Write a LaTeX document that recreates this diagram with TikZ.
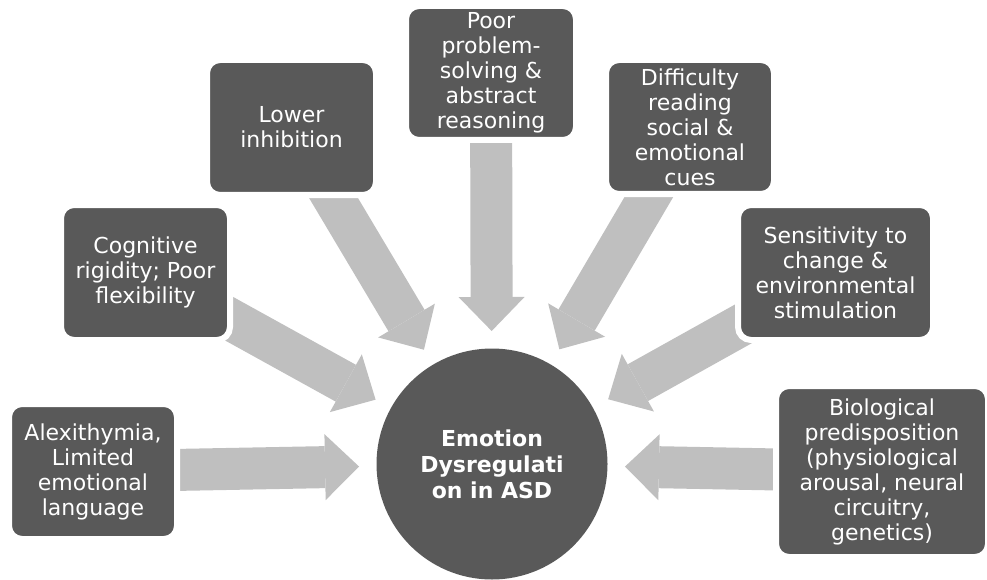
\documentclass[tikz,border=0pt]{standalone}
\usepackage{fontspec}
\setmainfont{DejaVu Sans}
\usetikzlibrary{arrows.meta,calc,backgrounds}

\definecolor{boxgray}{HTML}{595959}
\definecolor{arrowgray}{HTML}{BFBFBF}

\tikzset{
  factor/.style={fill=boxgray, draw=white, line width=6pt, rounded corners=13pt,
    text=white, align=center, inner sep=0pt, font=\fontsize{22}{25}\selectfont},
  flow/.style={draw=arrowgray, line width=42pt,
    -{Triangle[width=66pt,length=34pt,line width=0pt]}}
}

\begin{document}
\begin{tikzpicture}[x=1pt,y=-1pt]
        \useasboundingbox (0,0) rectangle (987,580);
        % Centre
        \node[circle, fill=boxgray, minimum size=231pt, inner sep=0pt, text=white, align=center,
          font=\bfseries\fontsize{22}{26}\selectfont] (core) at (492,464)
          {Emotion\\Dysregulati\\on in ASD};
        % Factors
        \node[factor, minimum width=168pt, minimum height=135pt] (alex) at (93,471.5)
          {Alexithymia,\\Limited\\emotional\\language};
        \node[factor, minimum width=169pt, minimum height=135pt] (cogn) at (145.5,272.5)
          {Cognitive\\rigidity; Poor\\flexibility};
        \node[factor, minimum width=169pt, minimum height=135pt] (lowinh) at (291.5,127.5)
          {Lower\\inhibition};
        \node[factor, minimum width=170pt, minimum height=134pt] (poor) at (491,73)
          {Poor\\problem-\\solving \&\\abstract\\reasoning};
        \node[factor, minimum width=168pt, minimum height=134pt] (diff) at (690,127)
          {Difficulty\\reading\\social \&\\emotional\\cues};
        \node[factor, minimum width=195pt, minimum height=135pt] (sens) at (835.5,272.5)
          {Sensitivity to\\change \&\\environmental\\stimulation};
        \node[factor, minimum width=212pt, minimum height=171pt] (bio) at (882,471.5)
          {Biological\\predisposition\\(physiological\\arousal, neural\\circuitry,\\genetics)};
        % Arrows
        \begin{scope}[on background layer]
          \foreach \src in {alex,cogn,lowinh,poor,diff,sens,bio}
            \draw[flow] (\src.center) -- ($(core)!133pt!(\src)$);
        \end{scope}
    \end{tikzpicture}
\end{document}
